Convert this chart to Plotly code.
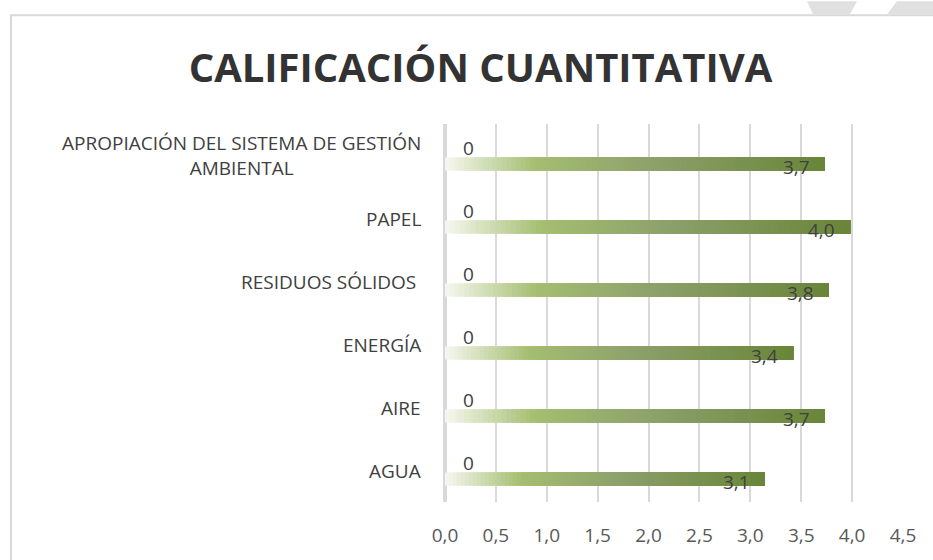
import plotly.graph_objects as go

# ---- data ----
categorias = ["AGUA", "AIRE", "ENERGÍA", "RESIDUOS SÓLIDOS\u00a0", "PAPEL",
              "APROPIACIÓN DEL SISTEMA DE GESTIÓN<br>AMBIENTAL"]
calificacion = [3.14, 3.73, 3.42, 3.77, 3.98, 3.73]
serie_cero = [0, 0, 0, 0, 0, 0]
x_ticks = [0.0, 0.5, 1.0, 1.5, 2.0, 2.5, 3.0, 3.5, 4.0, 4.5]

# ---- layout geometry ----
W, H = 933, 560
ML, MR, MT, MB = 445, 30, 124, 54
PW, PH = W - ML - MR, H - MT - MB


def px(xp):
    return (xp - ML) / PW


def py(yp):
    return (H - MB - yp) / PH


# gradient stops (fraction of bar length, rgb)
stops = [(0.0, (246, 248, 240)), (0.24, (164, 190, 112)),
         (0.55, (141, 160, 107)), (1.0, (104, 133, 56))]


def grad(t):
    for (t0, c0), (t1, c1) in zip(stops[:-1], stops[1:]):
        if t <= t1:
            f = (t - t0) / (t1 - t0)
            return "rgb(%d,%d,%d)" % tuple(round(a + (b - a) * f) for a, b in zip(c0, c1))
    return "rgb(%d,%d,%d)" % stops[-1][1]


# each bar is painted as overlapping layers, each one running to the bar end
N = 80
ys, xs, bases, cols = [], [], [], []
for cat, v in zip(categorias, calificacion):
    for i in range(N):
        b = v * i / N
        ys.append(cat)
        xs.append(v - b)
        bases.append(b)
        cols.append(grad((i + 0.5) / N))

fig = go.Figure()
fig.add_trace(go.Bar(
    y=ys, x=xs, base=bases, orientation="h",
    marker=dict(color=cols, line=dict(width=0)),
    width=0.21, offset=-0.24, hoverinfo="skip", showlegend=False,
))

annotations = []
font_lbl = dict(family="Open Sans", size=19, color="#404040")
for cat, v, z in zip(categorias, calificacion, serie_cero):
    # value label (inside end)
    annotations.append(dict(
        x=v, y=cat, xref="x", yref="y", text=f"{v:.1f}".replace(".", ","),
        showarrow=False, xanchor="right", yanchor="middle",
        xshift=-13, yshift=-11, font=font_lbl))
    # zero series label
    annotations.append(dict(
        x=z, y=cat, xref="x", yref="y", text=str(z),
        showarrow=False, xanchor="left", yanchor="middle",
        xshift=16, yshift=8, font=font_lbl))
    # category label
    annotations.append(dict(
        x=0, y=cat, xref="paper", yref="y", text=cat,
        showarrow=False, xanchor="right", yanchor="middle", align="center",
        xshift=-22, font=dict(family="Open Sans", size=19, color="#404040")))

shapes = [
    # page watermark fragments
    dict(type="path", xref="paper", yref="paper", layer="below",
         path=f"M{px(807)},{py(0)} L{px(857)},{py(0)} L{px(850)},{py(13)} L{px(813)},{py(13)} Z",
         fillcolor="#e0e0e0", line=dict(width=0)),
    dict(type="path", xref="paper", yref="paper", layer="below",
         path=f"M{px(897)},{py(0)} L{px(940)},{py(0)} L{px(940)},{py(13)} L{px(887)},{py(13)} Z",
         fillcolor="#e0e0e0", line=dict(width=0)),
    # chart border
    dict(type="rect", xref="paper", yref="paper", layer="below",
         x0=px(11), y0=py(600), x1=px(980), y1=py(14),
         line=dict(color="#d9d9d9", width=2), fillcolor="rgba(0,0,0,0)"),
]

fig.update_layout(
    width=W, height=H,
    margin=dict(l=ML, r=MR, t=MT, b=MB, pad=0),
    paper_bgcolor="white", plot_bgcolor="white",
    separators=",.",
    barmode="overlay",
    title=dict(text="<b>CALIFICACIÓN CUANTITATIVA</b>", x=0.515, xanchor="center",
               y=1 - 68 / H, yanchor="middle",
               font=dict(family="Open Sans", size=40, color="#333333")),
    xaxis=dict(range=[0, 4.5], tickvals=x_ticks, tickformat=".1f",
               showgrid=True, gridcolor="#d9d9d9", gridwidth=1.5,
               zeroline=True, zerolinecolor="#d9d9d9", zerolinewidth=3.5,
               showline=False, ticks="", ticklabelstandoff=20,
               tickfont=dict(family="Open Sans", size=19, color="#595959"),
               fixedrange=True),
    yaxis=dict(type="category", categoryarray=categorias, categoryorder="array",
               showticklabels=False, showgrid=False, zeroline=False,
               range=[-0.5, len(categorias) - 0.5], fixedrange=True),
    annotations=annotations,
    shapes=shapes,
)

fig.write_html("out.html", config={"displayModeBar": False},
               post_script="document.body.style.margin='0';document.body.style.overflow='hidden';")
